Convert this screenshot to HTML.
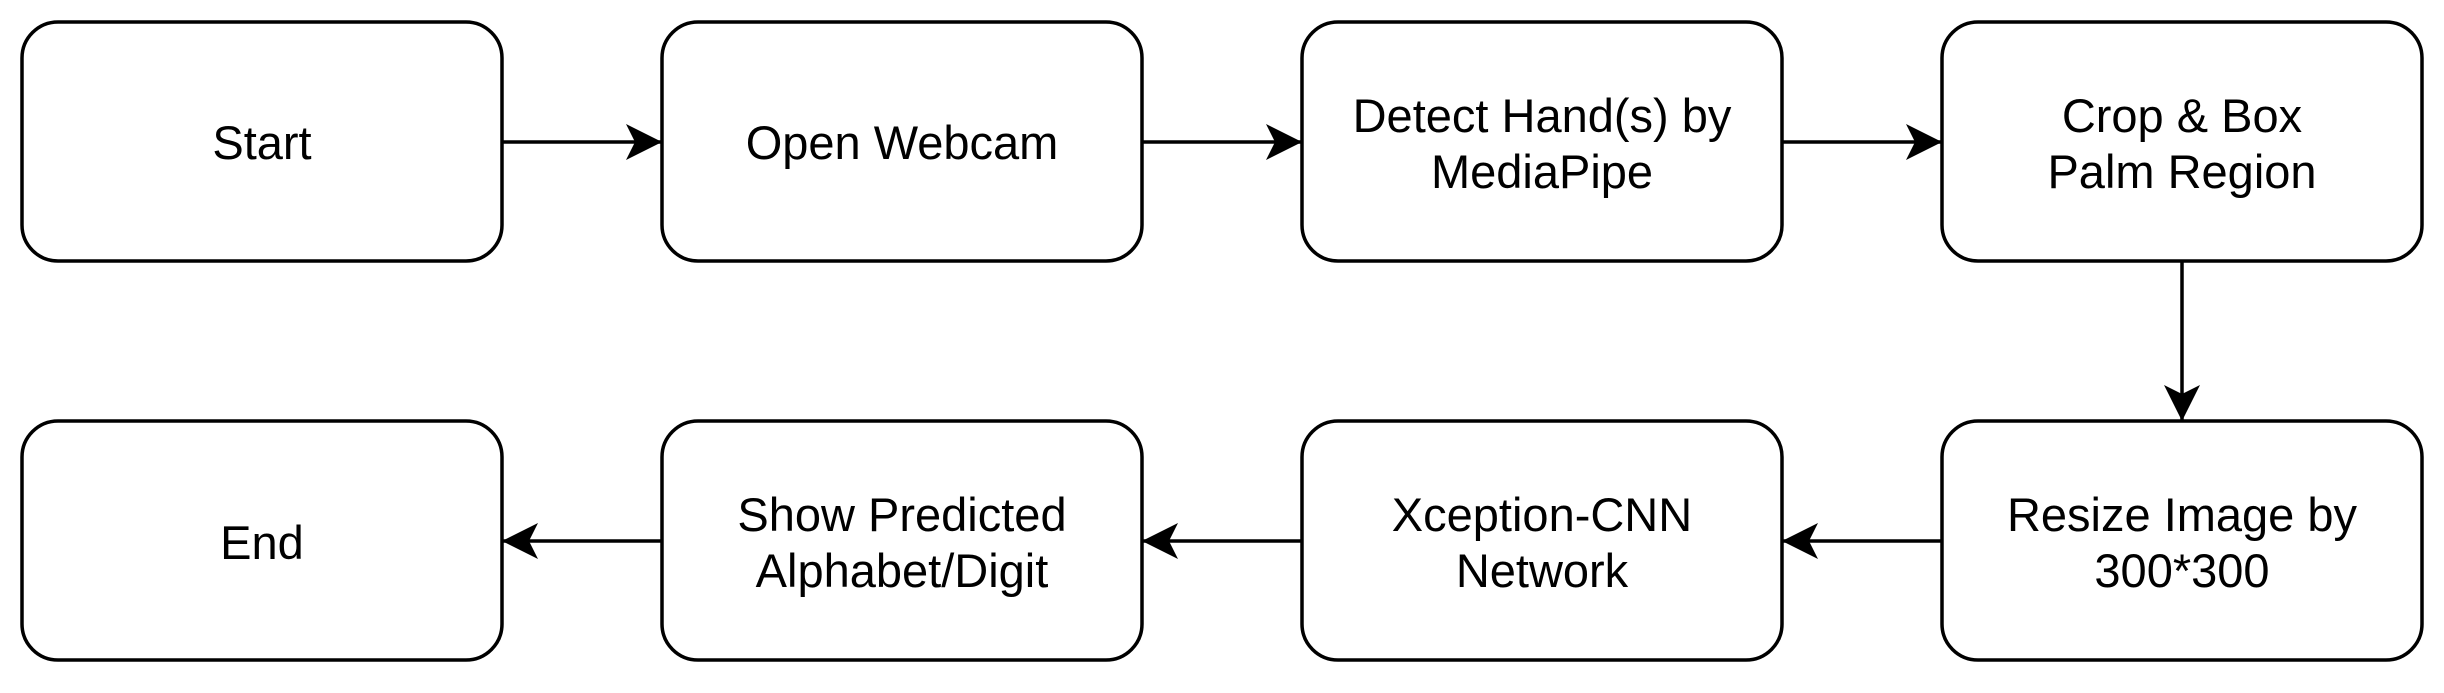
<!DOCTYPE html>
<html><head><meta charset="utf-8"><style>
html,body{margin:0;padding:0;background:#fff;}
svg text{font-family:"Liberation Sans",Arial,sans-serif;font-size:47px;fill:#000;text-anchor:middle;}
</style></head><body>
<svg width="2444" height="688" viewBox="0 0 2444 688" xmlns="http://www.w3.org/2000/svg">
<defs>
<marker id="a" markerUnits="userSpaceOnUse" markerWidth="40" markerHeight="40" refX="36" refY="18" orient="auto">
<path d="M0,0 L36,18 L0,36 L9,18 Z" fill="#000"/>
</marker>
</defs>
<g fill="#fff" stroke="#000" stroke-width="3.5">
<rect x="22" y="22" width="480" height="239" rx="36"/>
<rect x="662" y="22" width="480" height="239" rx="36"/>
<rect x="1302" y="22" width="480" height="239" rx="36"/>
<rect x="1942" y="22" width="480" height="239" rx="36"/>
<rect x="22" y="421" width="480" height="239" rx="36"/>
<rect x="662" y="421" width="480" height="239" rx="36"/>
<rect x="1302" y="421" width="480" height="239" rx="36"/>
<rect x="1942" y="421" width="480" height="239" rx="36"/>
</g>
<g stroke="#000" stroke-width="3.5" fill="none" marker-end="url(#a)">
<line x1="502" y1="142" x2="662" y2="142"/>
<line x1="1142" y1="142" x2="1302" y2="142"/>
<line x1="1782" y1="142" x2="1942" y2="142"/>
<line x1="2182" y1="261" x2="2182" y2="421"/>
<line x1="1942" y1="541" x2="1782" y2="541"/>
<line x1="1302" y1="541" x2="1142" y2="541"/>
<line x1="662" y1="541" x2="502" y2="541"/>
</g>
<text x="262" y="159">Start</text>
<text x="902" y="159">Open Webcam</text>
<text x="1542" y="132">Detect Hand(s) by</text>
<text x="1542" y="188">MediaPipe</text>
<text x="2182" y="132">Crop &amp; Box</text>
<text x="2182" y="188">Palm Region</text>
<text x="2182" y="531">Resize Image by</text>
<text x="2182" y="587">300*300</text>
<text x="1542" y="531">Xception-CNN</text>
<text x="1542" y="587">Network</text>
<text x="902" y="531">Show Predicted</text>
<text x="902" y="587">Alphabet/Digit</text>
<text x="262" y="559">End</text>
</svg>
</body></html>
